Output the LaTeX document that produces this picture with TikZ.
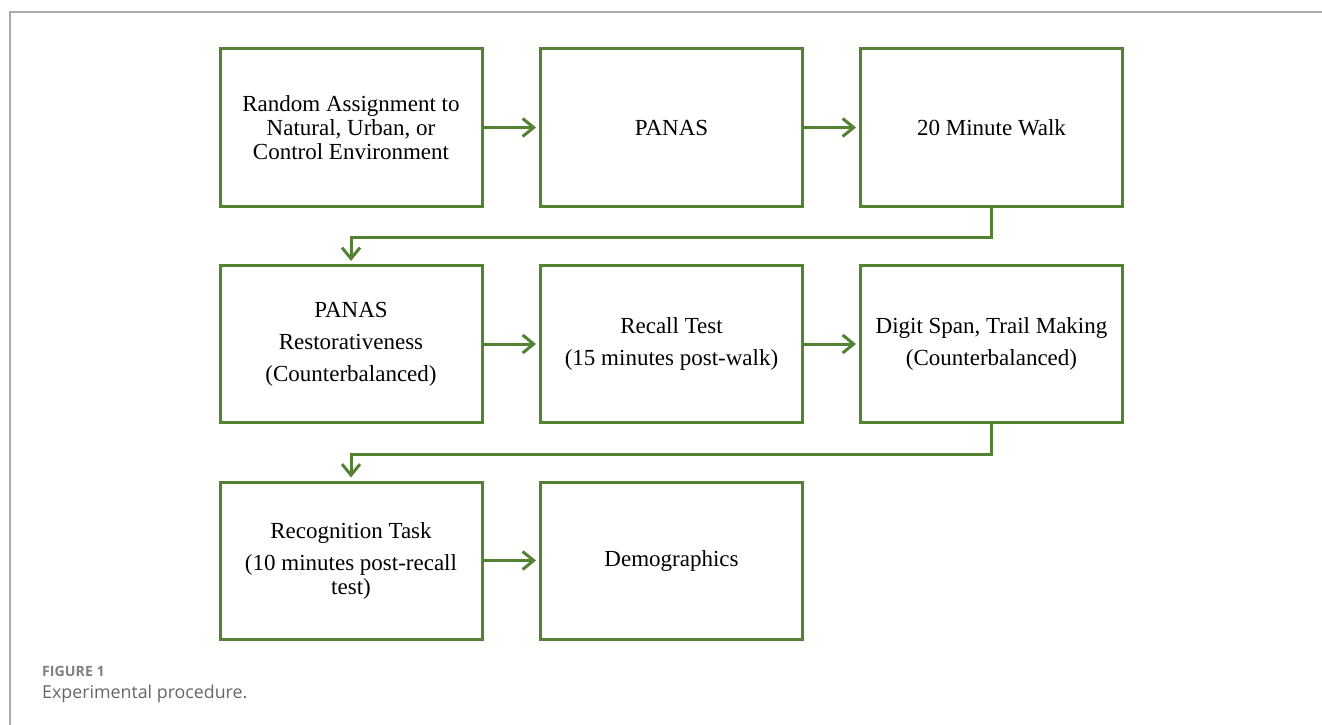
\documentclass[tikz,border=0pt]{standalone}
\usepackage{fontspec}
\setmainfont{Liberation Serif}
\newfontfamily\capfont{Open Sans}
\usetikzlibrary{arrows.meta,positioning}
\definecolor{boxgreen}{RGB}{84,130,53}
\definecolor{framegray}{RGB}{170,170,170}
\tikzset{
  stepbox/.style={draw=boxgreen, line width=3pt, minimum width=262pt, minimum height=157pt, inner sep=0pt, align=center, font=\fontsize{23}{24}\selectfont},
  arr/.style={draw=boxgreen, line width=3pt, -{Straight Barb[length=11pt,width=18pt,line width=3pt]}, shorten >=3pt}
}
\begin{document}
\begin{tikzpicture}[x=1pt,y=-1pt]
\useasboundingbox (0,0) rectangle (1322,725);
\draw[framegray, line width=1.5pt] (10,725) -- (10,12) -- (1322,12);
\node[stepbox] (b1) at (351,127.5) {Random Assignment to\\Natural, Urban, or\\Control Environment};
\node[stepbox] (b2) at (671.5,127.5) {PANAS};
\node[stepbox] (b3) at (991.5,127.5) {20 Minute Walk};
\node[stepbox] (b4) at (351,344) {PANAS\\[8pt]Restorativeness\\[8pt](Counterbalanced)};
\node[stepbox] (b5) at (671.5,344) {Recall Test\\[8pt](15 minutes post-walk)};
\node[stepbox] (b6) at (991.5,344) {Digit Span, Trail Making\\[8pt](Counterbalanced)};
\node[stepbox] (b7) at (351,560.5) {Recognition Task\\[8pt](10 minutes post-recall\\test)};
\node[stepbox] (b8) at (671.5,560.5) {Demographics};
\draw[arr] (b1.east) -- (b2.west);
\draw[arr] (b2.east) -- (b3.west);
\draw[arr] (b4.east) -- (b5.west);
\draw[arr] (b5.east) -- (b6.west);
\draw[arr] (b7.east) -- (b8.west);
\draw[arr] (b3.south) -- ++(0,30) -| (b4.north);
\draw[arr] (b6.south) -- ++(0,30) -| (b7.north);
\node[anchor=west, inner sep=0pt, text=gray, font=\capfont\fontsize{14.2}{16}\selectfont\bfseries] (cap1) at (42,671) {FIGURE 1};
\node[anchor=west, inner sep=0pt, text=black!60, font=\capfont\fontsize{17.8}{20}\selectfont] (cap2) at (42,694) {Experimental procedure.};
\end{tikzpicture}
\end{document}
